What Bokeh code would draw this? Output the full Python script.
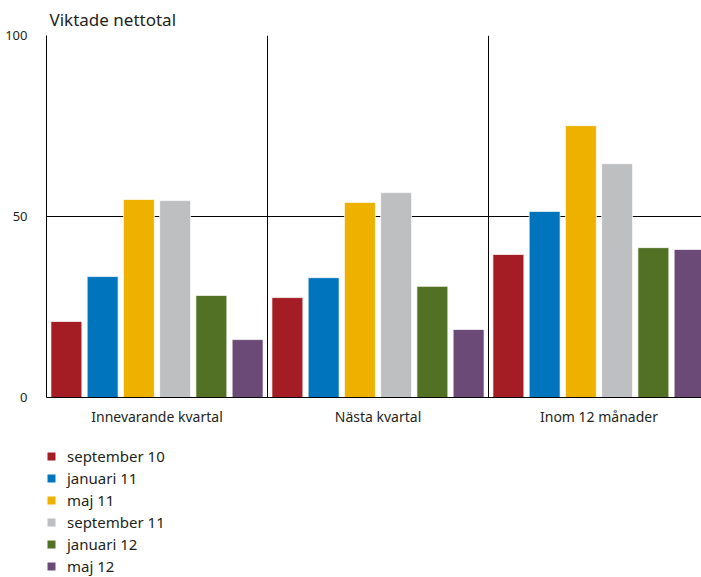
from bokeh.plotting import figure
from bokeh.layouts import column
from bokeh.models import (ColumnDataSource, Range1d, FixedTicker, Legend, LegendItem)
from bokeh.transform import dodge
from bokeh.embed import file_html
from bokeh.resources import INLINE

groups = ["Innevarande kvartal", "Nästa kvartal", "Inom 12 månader"]
series = ["september 10", "januari 11", "maj 11", "september 11", "januari 12", "maj 12"]
sep10 = [21.0, 27.6, 39.5]
jan11 = [33.4, 33.1, 51.4]
maj11 = [54.7, 53.9, 75.1]
sep11 = [54.4, 56.6, 64.6]
jan12 = [28.2, 30.7, 41.4]
maj12 = [16.0, 18.8, 40.9]
y_ticks = [0, 50, 100]

colors = ["#A51D24", "#0074BC", "#EEB100", "#BEBFC1", "#537124", "#6C4A78"]
values = [sep10, jan11, maj11, sep11, jan12, maj12]
keys = ["s0", "s1", "s2", "s3", "s4", "s5"]

data = {"gx": [i + 0.5 for i in range(len(groups))]}
for k, v in zip(keys, values):
    data[k] = v
src = ColumnDataSource(data)

FONT = "Noto Sans"
TXT = "#231F20"

p = figure(width=701, height=440, output_backend="svg", toolbar_location=None,
           x_range=Range1d(0, 655 / 221), y_range=Range1d(0, 100),
           min_border_left=46, min_border_right=0, min_border_top=35,
           min_border_bottom=43)
p.outline_line_color = None
p.background_fill_color = "white"
p.border_fill_color = "white"

pitch = 0.164
for i, (k, c) in enumerate(zip(keys, colors)):
    p.vbar(x=dodge("gx", (i - 2.5) * pitch, range=p.x_range), top=k, bottom=0,
           width=0.14, source=src, fill_color=c, line_color="white",
           line_width=1, line_alpha=0.7)

# axes
p.xaxis.ticker = FixedTicker(ticks=data["gx"])
p.xaxis.major_label_overrides = {gx: g for gx, g in zip(data["gx"], groups)}
p.yaxis.ticker = FixedTicker(ticks=y_ticks)
for ax in (p.xaxis[0], p.yaxis[0]):
    ax.axis_line_color = "black"
    ax.axis_line_width = 1
    ax.major_tick_line_color = None
    ax.minor_tick_line_color = None
    ax.major_label_text_font = FONT
    ax.major_label_text_color = TXT
p.xaxis.major_label_text_font_size = "14px"
p.yaxis.major_label_text_font_size = "13px"
p.xaxis.major_label_standoff = 3
p.yaxis.major_label_standoff = 13

p.xgrid.ticker = FixedTicker(ticks=[1, 2])
p.xgrid.grid_line_color = "black"
p.xgrid.grid_line_width = 1
p.ygrid.ticker = FixedTicker(ticks=[50, 100])
p.ygrid.grid_line_color = "black"
p.ygrid.grid_line_width = 1

# subtitle
p.title.text = "Viktade nettotal"
p.title.text_font = FONT
p.title.text_font_size = "17px"
p.title.text_font_style = "normal"
p.title.text_color = TXT
p.title.align = "left"
p.title.offset = 3
p.title.standoff = 10

# legend panel (separate figure below the chart, bars out of its view)
lg = figure(width=701, height=137, output_backend="svg", toolbar_location=None,
            x_range=Range1d(0, 1), y_range=Range1d(1000, 1001), min_border=0)
lg.axis.visible = False
lg.grid.visible = False
lg.outline_line_color = None
lg.background_fill_color = "white"
lg.border_fill_color = "white"
renderers = []
for k, c in zip(keys, colors):
    renderers.append(lg.vbar(x="gx", top=k, bottom=0, width=0.1, source=src,
                             fill_color=c, line_color=None))

legend = Legend(items=[LegendItem(label=s, renderers=[r]) for s, r in zip(series, renderers)],
                orientation="vertical", location=(0, 1))
legend.border_line_color = None
legend.background_fill_alpha = 0
legend.label_text_font = FONT
legend.label_text_font_size = "15px"
legend.label_text_color = TXT
legend.glyph_width = 10
legend.glyph_height = 10
legend.label_height = 20
legend.label_standoff = 11
legend.spacing = 2
legend.padding = 0
legend.margin = 0
lg.add_layout(legend)

layout = column(p, lg, spacing=0)
open("out.html", "w").write(file_html(layout, INLINE))
